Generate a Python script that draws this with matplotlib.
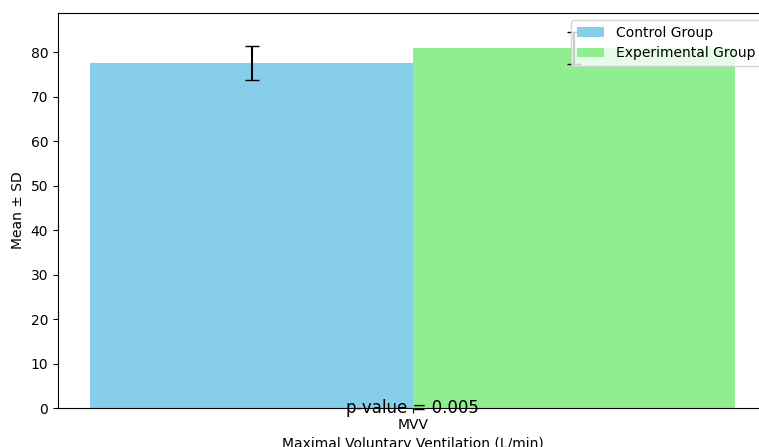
import matplotlib
matplotlib.use('Agg')
import matplotlib.pyplot as plt
import numpy as np

# datos
groups = ['Control Group', 'Experimental Group']
means = [77.5, 81.0]
sds = [3.8, 3.6]
colors = ['skyblue', 'lightgreen']
tick_labels = ['MVV']
p_value = 0.005

fig = plt.figure(figsize=(7.59, 4.47), dpi=100)
# los ejes sobresalen a la derecha y abajo, como en la imagen recortada
ax = fig.add_axes([58 / 759, 39 / 447, 709.5 / 759, 395 / 447])

x = np.arange(len(tick_labels))
width = 0.35
for i, (g, m, s, c) in enumerate(zip(groups, means, sds, colors)):
    offset = (i - 0.5) * width
    ax.bar(x + offset, [m], width, yerr=[s], capsize=5, color=c, label=g)

ax.set_xticks(x)
ax.set_xticklabels(tick_labels)
ax.set_xlabel('Maximal Voluntary Ventilation (L/min)')
ax.set_ylabel('Mean ± SD')
ax.legend(loc='upper right')

# p-valor centrado sobre el eje x
ax.text(x[0], 0, f'p-value = {p_value:.3f}', ha='center', va='center', fontsize=12)

fig.savefig('out.png', dpi=100)
